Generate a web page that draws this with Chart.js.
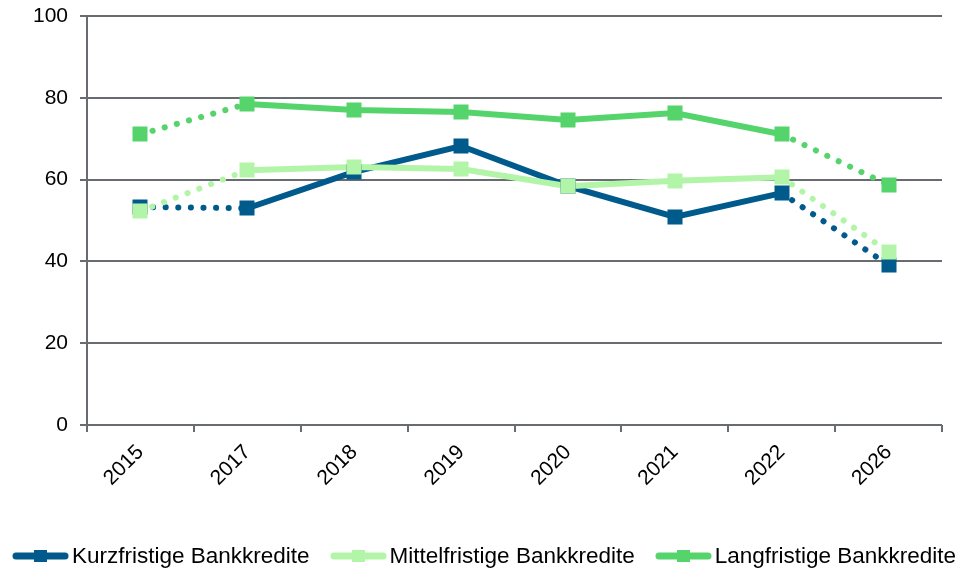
<!DOCTYPE html>
<html>
<head>
<meta charset="utf-8">
<script src="https://cdn.jsdelivr.net/npm/chart.js@4/dist/chart.umd.min.js"></script>
<style>
  html, body { margin: 0; padding: 0; background: #fff; }
  #wrap { position: relative; width: 960px; height: 569px; }
  #legend {
    position: absolute; left: 12px; top: 543px; height: 26px;
    display: flex; align-items: center;
    font-family: "Liberation Sans", Arial, sans-serif; font-size: 22.5px; color: #000;
  }
  #legend .item { display: flex; align-items: center; margin-right: 20px; white-space: nowrap; }
  #legend .item canvas { margin-right: 3px; }
</style>
</head>
<body>
<div id="wrap">
  <canvas id="myChart" width="960" height="569"></canvas>
  <div id="legend"></div>
</div>
<script>
// Kategorien (Jahre)
const years = ["2015", "2017", "2018", "2019", "2020", "2021", "2022", "2026"];

// Werte der drei Reihen
const kurzfristig = [53.3, 53.0, 61.9, 68.2, 58.4, 50.9, 56.7, 39.1];
const mittelfristig = [52.3, 62.3, 63.1, 62.6, 58.4, 59.7, 60.6, 42.3];
const langfristig = [71.1, 78.5, 77.0, 76.5, 74.6, 76.3, 71.1, 58.7];

// Tick-Werte der y-Achse
const yTicks = [0, 20, 40, 60, 80, 100];

// Farben
const colKurz = "#005A8B";
const colMittel = "#B3F5A8";
const colLang = "#56D46C";
const colGrid = "#686B70";

// Legendensymbol: Linie mit Quadrat
function legendIcon(color) {
  const c = document.createElement("canvas");
  c.width = 57;
  c.height = 14;
  const g = c.getContext("2d");
  g.strokeStyle = color;
  g.lineWidth = 7;
  g.lineCap = "round";
  g.beginPath();
  g.moveTo(4, 7);
  g.lineTo(53, 7);
  g.stroke();
  g.fillStyle = color;
  g.fillRect(22, 1, 13, 12);
  return c;
}

// gepunktete Abschnitte: 2015-2017 und 2022-2026
const lastIdx = years.length - 1;
function isDotted(ctx) {
  return ctx.p0DataIndex === 0 || ctx.p1DataIndex === lastIdx;
}

function makeDataset(label, data, color, order) {
  return {
    label: label,
    data: data,
    borderColor: color,
    backgroundColor: color,
    borderWidth: 6,
    borderCapStyle: "round",
    pointRadius: 0,
    order: order,
    segment: {
      borderDash: ctx => isDotted(ctx) ? [0.1, 12.5] : undefined,
    },
  };
}

// Marker (Quadrate) über den Linien zeichnen
const markerPlugin = {
  id: "markers",
  afterDatasetsDraw(chart) {
    const g = chart.ctx;
    [0, 1, 2].forEach(i => {
      const meta = chart.getDatasetMeta(i);
      const color = chart.data.datasets[i].borderColor;
      g.save();
      g.fillStyle = color;
      meta.data.forEach(pt => {
        g.fillRect(Math.round(pt.x) - 7.5, Math.round(pt.y) - 7.5, 15, 15);
      });
      g.restore();
    });
  },
};

// HTML-Legende aus den Datensätzen
function buildLegend(chart) {
  const box = document.getElementById("legend");
  box.innerHTML = "";
  chart.data.datasets.forEach(ds => {
    const item = document.createElement("div");
    item.className = "item";
    item.appendChild(legendIcon(ds.borderColor));
    const txt = document.createElement("span");
    txt.textContent = ds.label;
    item.appendChild(txt);
    box.appendChild(item);
  });
}

const ctx = document.getElementById("myChart");
const chart = new Chart(ctx, {
  type: "line",
  data: {
    labels: years,
    datasets: [
      makeDataset("Kurzfristige Bankkredite", kurzfristig, colKurz, 2),
      makeDataset("Mittelfristige Bankkredite", mittelfristig, colMittel, 1),
      makeDataset("Langfristige Bankkredite", langfristig, colLang, 0),
    ],
  },
  options: {
    responsive: false,
    animation: false,
    layout: { padding: { top: 16, right: 18, left: 0, bottom: 74 } },
    plugins: {
      tooltip: { enabled: false },
      legend: { display: false },
    },
    scales: {
      x: {
        offset: true,
        afterFit: axis => { axis.height = 70; },
        grid: {
          display: true,
          offset: true,
          drawOnChartArea: false,
          drawTicks: true,
          tickLength: 7,
          color: colGrid,
          lineWidth: 2,
        },
        border: { display: false },
        ticks: {
          color: "#000",
          minRotation: 45,
          maxRotation: 45,
          padding: 8,
          font: { family: "Liberation Sans, Arial", size: 21 },
        },
      },
      y: {
        min: 0,
        max: 100,
        afterBuildTicks: axis => { axis.ticks = yTicks.map(v => ({ value: v })); },
        afterFit: axis => { axis.width = 87; axis.paddingTop = 0; axis.paddingBottom = 0; },
        grid: {
          color: colGrid,
          lineWidth: 2,
          tickLength: 7,
        },
        border: { color: colGrid, width: 2 },
        ticks: {
          color: "#000",
          padding: 12,
          font: { family: "Liberation Sans, Arial", size: 21 },
        },
      },
    },
  },
  plugins: [markerPlugin],
});
buildLegend(chart);
</script>
</body>
</html>
